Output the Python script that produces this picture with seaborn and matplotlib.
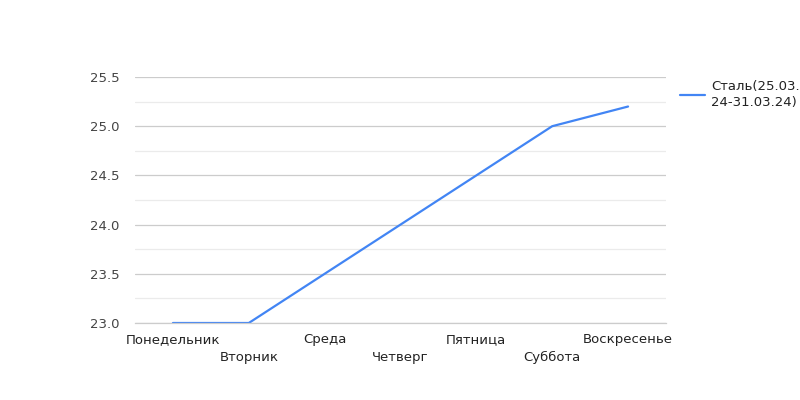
import matplotlib
matplotlib.use("Agg")
import matplotlib.pyplot as plt
import seaborn as sns
import pandas as pd
from matplotlib.ticker import MultipleLocator

days = ["Понедельник", "Вторник", "Среда", "Четверг", "Пятница", "Суббота", "Воскресенье"]
values = [23.0, 23.0, 23.5, 24.0, 24.5, 25.0, 25.2]
series_name = "Сталь(25.03.\n24-31.03.24)"

df = pd.DataFrame({"day": days, "value": values, "series": series_name})

sns.set_theme(style="white")
plt.rcParams["font.family"] = ["DejaVu Sans"]

fig = plt.figure(figsize=(8, 4), dpi=100)
ax = fig.add_axes([0.16875, 0.1925, 0.66375, 0.615])

sns.lineplot(data=df, x="day", y="value", hue="series", palette=["#4285F4"],
             linewidth=1.6, ax=ax, sort=False)

ax.set_xlim(-0.5, len(days) - 0.5)
ax.set_ylim(23.0, 25.5)
ax.yaxis.set_major_locator(MultipleLocator(0.5))
ax.yaxis.set_minor_locator(MultipleLocator(0.25))
ax.grid(which="major", axis="y", color="#cccccc", linewidth=0.9)
ax.grid(which="minor", axis="y", color="#ebebeb", linewidth=0.9)
ax.grid(axis="x", visible=False)
ax.set_axisbelow(True)
for s in ["top", "right", "left"]:
    ax.spines[s].set_visible(False)
ax.spines["bottom"].set_color("#cccccc")
ax.spines["bottom"].set_linewidth(0.9)

ax.set_xlabel("")
ax.set_ylabel("")
ax.set_yticks([23.0, 23.5, 24.0, 24.5, 25.0, 25.5])
ax.set_yticklabels([f"{v:.1f}" for v in [23.0, 23.5, 24.0, 24.5, 25.0, 25.5]],
                   fontsize=9.5, color="#444444")
ax.tick_params(axis="y", which="both", length=0, pad=11)
ax.tick_params(axis="x", length=0, labelsize=9.5, labelcolor="#222222")
ax.set_xticks(range(len(days)))
ax.set_xticklabels(days)
for i, t in enumerate(ax.xaxis.get_major_ticks()):
    t.set_pad(7.2 if i % 2 == 0 else 19.8)

leg = ax.legend(loc="upper left", bbox_to_anchor=(1.016, 1.01), frameon=False,
                fontsize=9.5, handlelength=1.9, handletextpad=0.45, borderaxespad=0,
                labelspacing=0.5)
for txt in leg.get_texts():
    txt.set_color("#222222")
    txt.set_linespacing(1.35)

fig.savefig("out.png", dpi=100, facecolor="white")
